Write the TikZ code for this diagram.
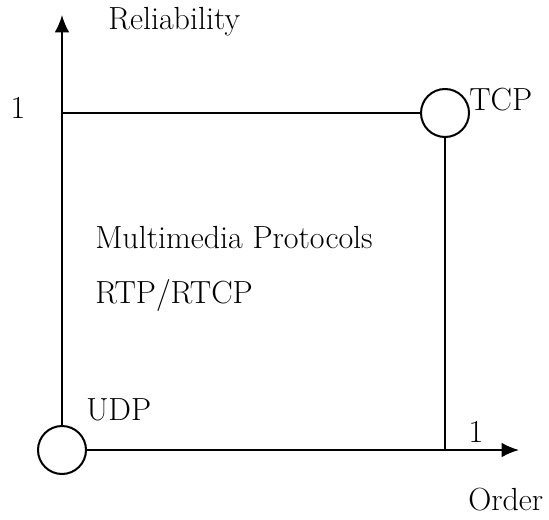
\documentclass[tikz,border=0pt]{standalone}
\usetikzlibrary{arrows.meta}
\tikzset{
  axisline/.style={line width=1.5pt, -{Latex[length=13pt,width=11pt]}},
  plainline/.style={line width=1.5pt},
  proto/.style={circle, draw, line width=1.5pt, minimum size=36pt, inner sep=0pt},
  lbl/.style={font=\fontsize{24}{28}\selectfont, inner sep=0pt}
}
\begin{document}
\begin{tikzpicture}[x=0.75pt,y=-0.75pt]
\useasboundingbox (0,0) rectangle (549,520);
\node[proto] (udp) at (62,450) {};
\node[proto] (tcp) at (445,113) {};
\coordinate (ytip) at (62,15);
\coordinate (xtip) at (519,450);
\coordinate (hstart) at (62,113);
\coordinate (vend) at (445,450);
\draw[axisline] (udp.north) -- (ytip);
\draw[axisline] (udp.east) -- (xtip);
\draw[plainline] (hstart) -- (tcp.west);
\draw[plainline] (tcp.south) -- (vend);
\node[lbl, anchor=west] (rel) at (108,22) {Reliability};
\node[lbl] (one1) at (18,108) {1};
\node[lbl, anchor=west] (tcpl) at (469,100) {TCP};
\node[lbl, anchor=west] (mm) at (95,238) {Multimedia Protocols};
\node[lbl, anchor=west] (rtp) at (95,295) {RTP/RTCP};
\node[lbl, anchor=west] (udpl) at (86,410) {UDP};
\node[lbl] (one2) at (476,432) {1};
\node[lbl, anchor=west] (ord) at (468,500) {Order};
\end{tikzpicture}
\end{document}
